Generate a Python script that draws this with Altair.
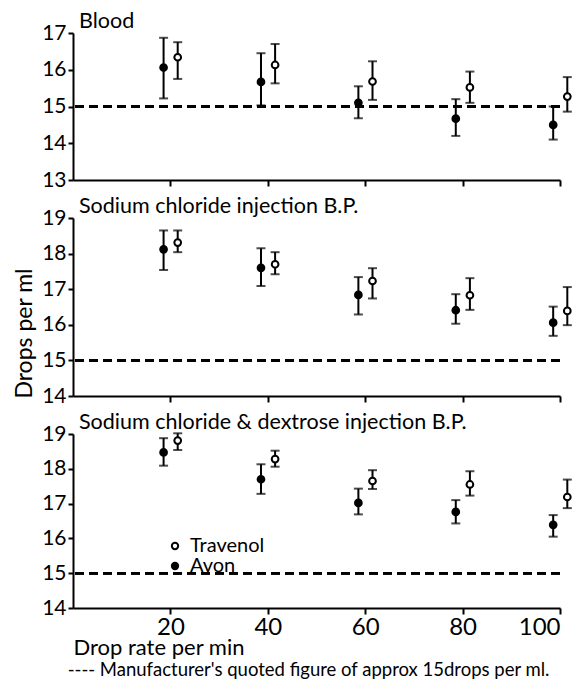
import altair as alt
import pandas as pd

rates = [20, 40, 60, 80, 100]
panel_titles = ["Blood", "Sodium chloride injection B.P.",
                "Sodium chloride & dextrose injection B.P."]
quoted_figure = 15
x_title = "Drop rate per min"
footnote = "---- Manufacturer's quoted figure of approx 15drops per ml."
y_title = "Drops per ml"

# Blood
blood_avon_mean = [16.06, 15.67, 15.10, 14.67, 14.50]
blood_avon_lo = [15.22, 15.03, 14.68, 14.20, 14.10]
blood_avon_hi = [16.87, 16.45, 15.55, 15.20, 15.00]
blood_trav_mean = [16.34, 16.13, 15.68, 15.52, 15.27]
blood_trav_lo = [15.75, 15.63, 15.18, 15.10, 14.86]
blood_trav_hi = [16.75, 16.70, 16.23, 15.95, 15.80]

# Sodium chloride injection
nacl_avon_mean = [18.12, 17.60, 16.84, 16.41, 16.06]
nacl_avon_lo = [17.54, 17.09, 16.29, 16.03, 15.69]
nacl_avon_hi = [18.65, 18.15, 17.34, 16.86, 16.51]
nacl_trav_mean = [18.31, 17.70, 17.23, 16.83, 16.39]
nacl_trav_lo = [18.04, 17.42, 16.74, 16.42, 15.99]
nacl_trav_hi = [18.65, 18.04, 17.59, 17.31, 17.06]

# Sodium chloride & dextrose injection
dex_avon_mean = [18.47, 17.70, 17.02, 16.76, 16.39]
dex_avon_lo = [18.09, 17.28, 16.69, 16.43, 16.05]
dex_avon_hi = [18.88, 18.13, 17.43, 17.10, 16.67]
dex_trav_mean = [18.81, 18.28, 17.65, 17.55, 17.19]
dex_trav_lo = [18.54, 18.06, 17.42, 17.23, 16.87]
dex_trav_hi = [19.02, 18.52, 17.96, 17.93, 17.69]


def make_df(am, al, ah, tm, tl, th):
    rows = []
    for i, r in enumerate(rates):
        rows.append(dict(rate=r, brand="Avon", mean=am[i], lo=al[i], hi=ah[i]))
        rows.append(dict(rate=r, brand="Travenol", mean=tm[i], lo=tl[i], hi=th[i]))
    return pd.DataFrame(rows)


FONT = "Lato"


def panel(df, title, ydom, yticks, height, bottom=False, ytitle=None, legend=False):
    base = alt.Chart(df).transform_calculate(
        xpos="datum.rate + (datum.brand == 'Avon' ? -1.4 : 1.5)"
    )
    if bottom:
        xaxis = alt.Axis(values=rates, title=x_title, titleAnchor="start",
                         titleAlign="left", titleFontSize=22, titleFontWeight="normal",
                         titlePadding=-2, labelFontSize=24,
                         labelPadding=1, tickSize=6)
    else:
        xaxis = alt.Axis(values=rates, labels=False, title=None, tickSize=6)
    xs = alt.Scale(domain=[0, 100], nice=False)
    ys = alt.Scale(domain=ydom, nice=False, zero=False)
    x = alt.X("xpos:Q", scale=xs, axis=xaxis)
    if ytitle:
        yaxis = alt.Axis(values=yticks, title=ytitle, labelFontSize=21, tickSize=5,
                         labelPadding=2, titleFontSize=23, titleFontWeight="normal",
                         titlePadding=5, titleY=115)
    else:
        yaxis = alt.Axis(values=yticks, title=None, labelFontSize=21, tickSize=5,
                         labelPadding=2)

    dash = base.mark_rule(strokeDash=[9, 5], strokeWidth=2, color="black").encode(
        y=alt.datum(quoted_figure, scale=ys, axis=yaxis)
    )
    bars = base.mark_rule(color="black", strokeWidth=2).encode(
        x=x, y=alt.Y("lo:Q", scale=ys, axis=yaxis), y2="hi:Q"
    )
    cap_lo = base.mark_tick(orient="horizontal", size=9, thickness=2, color="black").encode(
        x=x, y=alt.Y("lo:Q", scale=ys, axis=yaxis)
    )
    cap_hi = base.mark_tick(orient="horizontal", size=9, thickness=2, color="black").encode(
        x=x, y=alt.Y("hi:Q", scale=ys, axis=yaxis)
    )
    if legend:
        leg = alt.Legend(orient="none", legendX=92, legendY=102, title=None,
                         labelFont=FONT, labelFontSize=20, symbolSize=40,
                         symbolStrokeColor="black", symbolStrokeWidth=2,
                         symbolType="circle", rowPadding=0, labelOffset=5,
                         labelColor="black")
    else:
        leg = None
    pts = base.mark_circle(stroke="black", strokeWidth=2, size=45, opacity=1).encode(
        x=x, y=alt.Y("mean:Q", scale=ys, axis=yaxis),
        fill=alt.Fill("brand:N", scale=alt.Scale(domain=["Travenol", "Avon"],
                                                 range=["white", "black"]),
                      legend=leg)
    )
    return alt.layer(dash, bars, cap_lo, cap_hi, pts).properties(
        width=487, height=height,
        title=alt.TitleParams(title, anchor="start", frame="group", font=FONT,
                              fontSize=21.5, fontWeight="normal", dx=6, offset=-10,
                              color="black")
    )


p1 = panel(make_df(blood_avon_mean, blood_avon_lo, blood_avon_hi,
                   blood_trav_mean, blood_trav_lo, blood_trav_hi),
           panel_titles[0], [13, 17], [13, 14, 15, 16, 17], 147)
p2 = panel(make_df(nacl_avon_mean, nacl_avon_lo, nacl_avon_hi,
                   nacl_trav_mean, nacl_trav_lo, nacl_trav_hi),
           panel_titles[1], [14, 19], [14, 15, 16, 17, 18, 19], 178, ytitle=y_title)
p3 = panel(make_df(dex_avon_mean, dex_avon_lo, dex_avon_hi,
                   dex_trav_mean, dex_trav_lo, dex_trav_hi),
           panel_titles[2], [14, 19], [14, 15, 16, 17, 18, 19], 174, bottom=True, legend=True)

chart = alt.vconcat(p1, p2, p3, spacing=5).resolve_scale(fill="independent").properties(
    padding={"left": 5, "top": 2, "right": 2, "bottom": 0},
    background="white",
    title=alt.TitleParams(footnote, orient="bottom", anchor="start", frame="bounds",
                          dx=54, offset=3, font=FONT, fontSize=18.5,
                          fontWeight="normal", color="black")
).configure_view(stroke=None).configure_axis(
    domainColor="black", domainWidth=2, tickColor="black", tickWidth=2, grid=False,
    labelColor="black", titleColor="black", labelFont=FONT, titleFont=FONT
)

chart.save("out.html", embed_options={"renderer": "svg", "actions": False})
